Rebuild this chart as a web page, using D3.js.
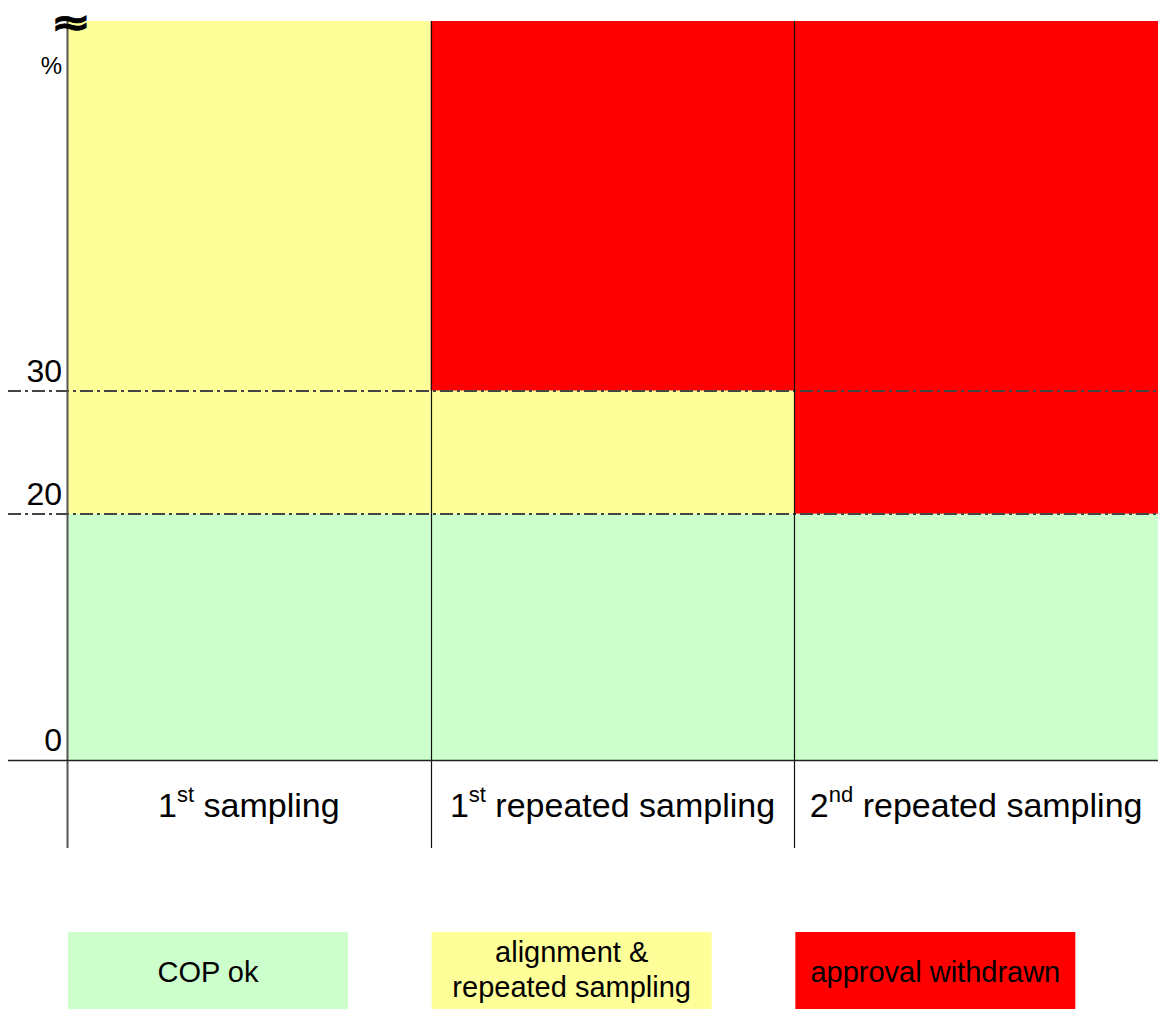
<!DOCTYPE html>
<html>
<head>
<meta charset="utf-8">
<script src="https://cdn.jsdelivr.net/npm/d3@7"></script>
<style>
  html, body { margin: 0; padding: 0; background: #fff; }
  svg { display: block; font-family: "Liberation Sans", Arial, sans-serif; }
</style>
</head>
<body>
<div id="chart"></div>
<script>
// columns of the diagram (ordinal + superscript suffix)
const categories = ["1st sampling", "1st repeated sampling", "2nd repeated sampling"];
const catNumber = ["1", "1", "2"];
const catSuffix = ["st", "st", "nd"];
const catRest = ["sampling", "repeated sampling", "repeated sampling"];

// y thresholds (percent)
const yTicks = [0, 20, 30];
const yMax = 60;
const thresholds = [20, 30];

// zones per column: [from %, to %, status]
const zones = [
  [[0, 20, "ok"], [20, 60, "align"]],
  [[0, 20, "ok"], [20, 30, "align"], [30, 60, "withdrawn"]],
  [[0, 20, "ok"], [20, 60, "withdrawn"]]
];

const statusKeys = ["ok", "align", "withdrawn"];
const statusLabels = [["COP ok"], ["alignment &", "repeated sampling"], ["approval withdrawn"]];
const statusColors = ["#CCFFCC", "#FFFF99", "#FF0000"];

const width = 1158, height = 1009;
const margin = {left: 67, right: 0, top: 21, bottom: 249};

const svg = d3.select("#chart").append("svg")
  .attr("width", width)
  .attr("height", height)
  .attr("viewBox", `0 0 ${width} ${height}`);

const x = d3.scaleBand()
  .domain(categories)
  .range([margin.left, width - margin.right])
  .padding(0);

const y = d3.scaleLinear()
  .domain([0, yMax])
  .range([height - margin.bottom, margin.top]);

const color = d3.scaleOrdinal().domain(statusKeys).range(statusColors);

// zone rectangles
const cells = categories.flatMap((c, i) => zones[i].map(z => ({cat: c, from: z[0], to: z[1], status: z[2]})));
svg.append("g").selectAll("rect")
  .data(cells)
  .join("rect")
  .attr("x", d => x(d.cat))
  .attr("width", x.bandwidth())
  .attr("y", d => y(d.to))
  .attr("height", d => y(d.from) - y(d.to))
  .attr("fill", d => color(d.status));

// dash-dot threshold lines
svg.append("g").selectAll("line")
  .data(thresholds)
  .join("line")
  .attr("x1", 8)
  .attr("x2", width)
  .attr("y1", d => Math.round(y(d)))
  .attr("y2", d => Math.round(y(d)))
  .attr("stroke", "#444")
  .attr("stroke-width", 1.8)
  .attr("stroke-dasharray", "13,4,3,4");

// vertical column dividers (axis + separators)
const bottomExt = 848;
svg.append("g").selectAll("line")
  .data(categories)
  .join("line")
  .attr("x1", d => Math.round(x(d)) + 0.5)
  .attr("x2", d => Math.round(x(d)) + 0.5)
  .attr("y1", margin.top)
  .attr("y2", bottomExt)
  .attr("stroke", (d, i) => i === 0 ? "#555" : "#111")
  .attr("stroke-width", (d, i) => i === 0 ? 2 : 1.2);

// x baseline
svg.append("line")
  .attr("x1", 8).attr("x2", width)
  .attr("y1", Math.round(y(0)) + 0.5).attr("y2", Math.round(y(0)) + 0.5)
  .attr("stroke", "#222").attr("stroke-width", 1.5);

// y tick labels
svg.append("g").selectAll("text")
  .data(yTicks)
  .join("text")
  .attr("x", 62)
  .attr("y", d => y(d) - 9)
  .attr("text-anchor", "end")
  .attr("font-size", 32)
  .attr("fill", "#000")
  .text(d => d);

svg.append("text")
  .attr("x", 62).attr("y", 74)
  .attr("text-anchor", "end")
  .attr("font-size", 24)
  .text("%");

// axis break mark (widened + stroked to match the heavy glyph)
svg.append("text")
  .attr("transform", "translate(71,35) scale(1.3,1)")
  .attr("text-anchor", "middle")
  .attr("font-family", "DejaVu Sans")
  .attr("font-weight", "bold")
  .attr("font-size", 37)
  .attr("stroke", "#000")
  .attr("stroke-width", 0.8)
  .text("\u2248");

// category labels with superscripts
const lab = svg.append("g").selectAll("text")
  .data(categories)
  .join("text")
  .attr("x", d => x(d) + x.bandwidth() / 2)
  .attr("y", 817)
  .attr("text-anchor", "middle")
  .attr("font-size", 34)
  .attr("fill", "#000");
lab.append("tspan").text((d, i) => catNumber[i]);
lab.append("tspan").attr("dy", -15).attr("font-size", 22).text((d, i) => catSuffix[i]);
lab.append("tspan").attr("dy", 15).text((d, i) => "\u00a0" + catRest[i]);

// legend
const legendX = d3.scaleBand().domain(statusKeys).range([margin.left, width]).padding(0);
const legW = 280, legTop = 932, legH = 77;
const leg = svg.append("g").selectAll("g")
  .data(statusKeys)
  .join("g")
  .attr("transform", d => `translate(${legendX(d) + 1},${legTop})`);
leg.append("rect")
  .attr("width", legW).attr("height", legH)
  .attr("fill", d => color(d));
leg.each(function(d, i) {
  const lines = statusLabels[i];
  const t = d3.select(this).append("text")
    .attr("text-anchor", "middle")
    .attr("font-size", 29)
    .attr("fill", "#000");
  lines.forEach((s, j) => {
    t.append("tspan")
      .attr("x", legW / 2)
      .attr("y", lines.length === 1 ? 50 : 30 + j * 35)
      .text(s);
  });
});
</script>
</body>
</html>
